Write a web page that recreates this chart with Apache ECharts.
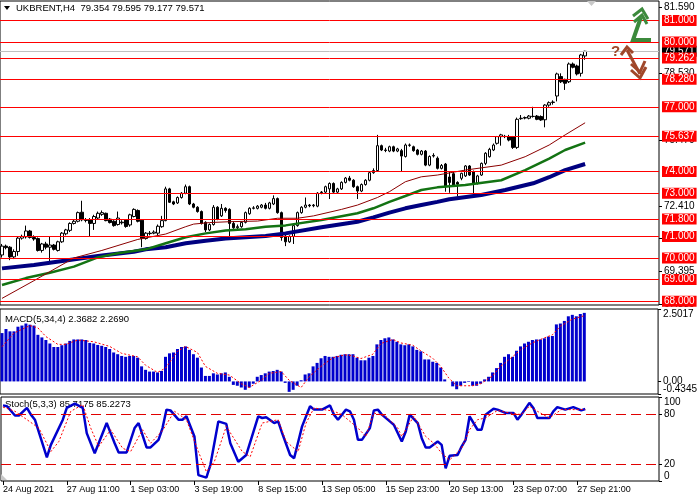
<!DOCTYPE html>
<html>
<head>
<meta charset="utf-8">
<script src="https://cdn.jsdelivr.net/npm/echarts@6/dist/echarts.min.js"></script>
<style>
    html, body { margin: 0; padding: 0; background: #fff; }
    #main { width: 700px; height: 500px; }
</style>
</head>
<body>
<div id="main"></div>
<script>
// H4 свечи: [open, close, low, high]
const candles = [
    [70.14, 70.55, 70.02, 70.65], [70.55, 70.48, 70.40, 70.62], [70.50, 70.05, 69.90, 70.55], [70.05, 70.30, 69.95, 70.40],
    [70.30, 70.92, 70.10, 71.00], [70.92, 71.00, 70.85, 71.08], [70.98, 71.25, 70.90, 71.50], [71.25, 70.95, 70.90, 71.30],
    [70.95, 70.88, 70.80, 71.05], [70.90, 70.35, 70.30, 70.95], // 9
    [70.35, 70.65, 70.25, 70.70], [70.65, 70.50, 70.40, 70.75], [70.50, 70.60, 69.85, 71.00], [70.60, 70.40, 70.35, 70.65],
    [70.35, 70.75, 70.30, 70.80], [70.75, 71.15, 70.70, 71.20], [71.12, 71.30, 71.05, 71.35], [71.28, 71.60, 71.20, 71.65],
    [71.60, 71.70, 71.55, 71.80], [71.70, 72.10, 71.65, 72.15], // 19
    [72.12, 71.77, 71.70, 72.65], [71.77, 71.74, 71.65, 71.85], [71.77, 71.60, 71.00, 71.85], [71.60, 71.92, 71.30, 72.00],
    [71.85, 72.07, 71.80, 72.15], [72.02, 72.10, 71.95, 72.20], [72.07, 71.73, 71.70, 72.10], [71.80, 71.64, 71.60, 71.85],
    [71.70, 71.50, 71.45, 71.75], [71.55, 71.85, 71.50, 72.15], // 29
    [71.66, 71.63, 71.55, 71.75], [71.77, 71.46, 71.40, 71.80], [71.53, 72.00, 71.45, 72.05], [71.92, 72.25, 71.88, 72.30],
    [72.20, 71.70, 71.65, 72.25], [71.75, 70.90, 70.50, 71.80], [70.90, 71.15, 70.85, 71.20], [71.15, 71.13, 71.05, 71.25],
    [71.15, 71.20, 71.10, 71.28], [71.15, 71.47, 71.05, 71.55], // 39
    [71.45, 71.73, 71.40, 71.95], [71.73, 73.20, 71.70, 73.30], [73.20, 72.58, 72.55, 73.25], [72.60, 72.50, 72.45, 72.65],
    [72.55, 72.80, 72.50, 72.85], [72.80, 73.00, 72.75, 73.05], [73.00, 73.30, 72.95, 73.40], [73.30, 72.50, 72.45, 73.35],
    [72.50, 72.35, 72.30, 72.55], [72.35, 72.15, 72.10, 72.40], // 49
    [72.15, 71.60, 71.55, 72.20], [71.65, 71.30, 71.20, 71.70], [71.30, 71.55, 71.25, 71.60], [71.55, 72.35, 71.50, 72.45],
    [72.35, 71.80, 71.75, 72.40], [71.95, 72.30, 71.90, 72.50], [72.30, 72.20, 72.10, 72.35], [72.25, 71.60, 71.00, 72.30],
    [71.60, 71.40, 71.35, 71.70], [71.40, 71.45, 71.30, 71.55], // 59
    [71.45, 71.65, 71.40, 71.70], [71.65, 72.10, 71.60, 72.15], [72.05, 72.30, 72.00, 72.35], [72.30, 72.32, 72.25, 72.40],
    [72.30, 72.40, 72.25, 72.45], [72.35, 72.45, 72.30, 72.50], [72.45, 72.30, 72.25, 72.55], [72.30, 72.55, 72.25, 72.60],
    [72.50, 72.75, 72.45, 72.90], [72.75, 72.10, 72.05, 72.80], // 69
    [72.10, 70.95, 70.80, 72.15], [71.00, 70.75, 70.55, 71.10], [70.75, 71.00, 70.70, 71.05], [71.00, 71.50, 70.65, 71.60],
    [71.50, 72.10, 71.45, 72.15], [72.10, 72.35, 72.05, 72.40], [72.35, 72.45, 72.30, 72.80], [72.45, 72.42, 72.35, 72.50],
    [72.42, 72.45, 72.35, 72.50], [72.40, 73.00, 72.35, 73.05], // 79
    [73.05, 73.03, 72.95, 73.10], [73.05, 73.30, 73.00, 73.35], [73.20, 73.45, 72.73, 73.50], [73.45, 73.05, 73.00, 73.50],
    [73.05, 73.20, 73.00, 73.25], [73.20, 73.50, 73.15, 73.55], [73.50, 73.70, 73.45, 73.75], [73.70, 73.60, 73.55, 73.80],
    [73.60, 73.30, 73.25, 73.65], [73.30, 73.10, 72.73, 73.35], // 89
    [73.10, 73.40, 73.05, 73.45], [73.40, 73.60, 73.35, 73.65], [73.60, 73.95, 73.55, 74.00], [73.95, 74.05, 73.90, 74.15],
    [74.05, 75.20, 74.00, 75.70], [75.20, 75.00, 74.95, 75.25], [75.00, 74.98, 74.90, 75.10], [74.95, 75.15, 74.90, 75.20],
    [75.15, 74.95, 74.90, 75.20], [74.95, 75.05, 74.90, 75.10], // 99
    [74.97, 74.72, 74.00, 75.05], [74.70, 75.23, 74.65, 75.30], [75.23, 75.22, 75.15, 75.30], [75.15, 74.97, 74.92, 75.20],
    [75.00, 74.80, 74.75, 75.05], [74.80, 74.95, 74.75, 75.00], [74.95, 74.30, 74.25, 75.00], [74.30, 74.70, 74.25, 74.75],
    [74.72, 74.75, 74.65, 74.85], [74.62, 74.15, 74.10, 74.70], // 109
    [74.15, 74.28, 74.10, 74.35], [74.35, 73.30, 73.07, 74.40], [73.75, 73.50, 73.02, 74.00], [73.90, 73.35, 73.30, 74.00],
    [73.50, 73.42, 72.84, 73.55], [73.69, 73.92, 73.60, 73.95], [73.80, 74.26, 73.75, 74.30], [74.26, 73.84, 73.80, 74.30],
    [74.00, 73.46, 72.84, 74.05], [73.46, 73.80, 73.40, 73.85], // 119
    [73.84, 74.38, 73.80, 74.42], [74.38, 74.85, 74.30, 74.90], [74.69, 75.03, 74.65, 75.10], [75.00, 75.23, 74.95, 75.30],
    [75.31, 75.62, 75.25, 75.65], [75.62, 75.70, 75.20, 75.75], [75.62, 75.63, 75.55, 75.70], [75.62, 75.46, 75.40, 75.70],
    [75.62, 75.12, 75.05, 75.65], [75.12, 76.42, 75.05, 76.50], // 129
    [76.45, 76.47, 76.40, 76.62], [76.50, 76.48, 76.42, 76.55], [76.47, 76.57, 76.42, 76.62], [76.55, 76.56, 76.50, 77.00],
    [76.57, 76.42, 76.38, 76.62], [76.55, 76.39, 76.35, 76.60], [76.40, 77.08, 76.05, 77.12], [77.08, 77.19, 77.00, 77.25],
    [77.20, 77.22, 77.10, 77.30], [77.50, 78.52, 77.25, 78.58], // 139
    [78.40, 78.16, 78.10, 78.55], [78.27, 78.09, 77.78, 78.30], [78.16, 78.98, 78.10, 79.05], [78.98, 78.83, 78.78, 79.05],
    [78.89, 78.52, 78.45, 78.95], [78.55, 79.40, 78.40, 79.45], [79.354, 79.571, 79.177, 79.595] // 146
];

const maRed = [
    [0, 68.13], [8, 68.95], [18, 70.0], [25, 70.35], [34, 70.86], [41, 71.11], [46, 71.45], [48, 71.57],
    [52, 71.64], [57, 71.68], [64, 71.71], [69, 71.84], [74, 71.84], [78, 71.95], [85, 72.25], [89, 72.45],
    [94, 72.8], [97, 73.07], [101, 73.53], [105, 73.76], [109, 73.84], [116, 74.07], [125, 74.3], [131, 74.69],
    [137, 75.23], [141, 75.7], [146, 76.26]
];
const maGreen = [
    [0, 68.75], [6, 69.07], [12, 69.32], [18, 69.6], [24, 70.03], [29, 70.22], [36, 70.4], [41, 70.68],
    [46, 70.96], [51, 71.14], [56, 71.27], [61, 71.33], [66, 71.45], [71, 71.51], [80, 71.76], [89, 72.07],
    [93, 72.3], [97, 72.6], [101, 72.87], [105, 73.15], [109, 73.27], [116, 73.38], [125, 73.6], [131, 74.07],
    [137, 74.6], [141, 75.0], [146, 75.34]
];
const maNavy = [
    [0, 69.52], [8, 69.68], [16, 69.88], [24, 70.09], [33, 70.29], [36, 70.4], [41, 70.5], [46, 70.68],
    [51, 70.8], [56, 70.9], [61, 70.96], [66, 71.02], [71, 71.14], [80, 71.42], [89, 71.68], [93, 71.88],
    [97, 72.1], [101, 72.3], [105, 72.45], [109, 72.6], [112, 72.72], [120, 72.92], [126, 73.15], [133, 73.46],
    [137, 73.74], [141, 74.07], [146, 74.35]
];

// MACD(5,34,4)
const macdHist = [
    1.67, 1.81, 1.73, 1.73, 1.89, 1.93, 2.0, 1.96, 1.93, 1.61,
    1.52, 1.43, 1.31, 1.19, 1.19, 1.25, 1.31, 1.4, 1.45, 1.45,
    1.45, 1.43, 1.33, 1.31, 1.26, 1.23, 1.19, 1.12, 1.0, 0.94,
    0.88, 0.85, 0.88, 0.88, 0.82, 0.52, 0.4, 0.34, 0.34, 0.31,
    0.36, 0.85, 0.97, 1.0, 1.12, 1.19, 1.21, 1.09, 0.94, 0.82,
    0.48, 0.19, 0.19, 0.28, 0.24, 0.28, 0.31, 0.16, -0.12, -0.15,
    -0.21, -0.29, -0.21, -0.08, 0.16, 0.22, 0.28, 0.34, 0.36, 0.4,
    0.34, -0.05, -0.36, -0.29, -0.15, 0.04, 0.24, 0.28, 0.52, 0.64,
    0.8, 0.88, 0.85, 0.85, 0.88, 0.92, 0.94, 0.94, 0.94, 0.82,
    0.73, 0.73, 0.82, 0.88, 1.28, 1.43, 1.49, 1.52, 1.45, 1.37,
    1.28, 1.25, 1.28, 1.21, 1.09, 1.04, 0.76, 0.76, 0.68, 0.64,
    0.48, 0.07, 0.0, -0.17, -0.27, -0.15, -0.05, -0.02, -0.15, -0.15,
    -0.08, 0.07, 0.16, 0.31, 0.46, 0.64, 0.85, 0.94, 0.85, 1.06,
    1.21, 1.31, 1.37, 1.43, 1.45, 1.45, 1.49, 1.55, 1.57, 1.97,
    2.0, 2.09, 2.25, 2.3, 2.25, 2.33, 2.3682
];
const macdSignal = [
    [0, 1.2], [3, 1.67], [7, 1.93], [9, 1.85], [11, 1.55], [14, 1.28], [16, 1.28], [19, 1.43], [23, 1.37],
    [27, 1.21], [30, 0.97], [34, 0.85], [36, 0.56], [39, 0.31], [41, 0.46], [44, 1.04], [46, 1.21], [49, 1.0],
    [51, 0.52], [54, 0.28], [57, 0.22], [60, -0.08], [62, -0.21], [65, 0.04], [67, 0.28], [70, 0.34], [72, 0.04],
    [75, -0.21], [77, 0.16], [80, 0.52], [83, 0.82], [86, 0.92], [88, 0.88], [90, 0.79], [93, 0.94], [95, 1.31],
    [98, 1.45], [100, 1.33], [103, 1.25], [105, 1.06], [108, 0.8], [110, 0.52], [112, 0.12], [114, -0.15],
    [118, -0.15], [120, -0.08], [123, 0.19], [125, 0.52], [128, 0.85], [130, 1.09], [133, 1.33], [135, 1.45],
    [138, 1.61], [140, 1.91], [143, 2.15], [146, 2.269]
];

// Stoch(5,3,3)
const stochMain = [
    [0, 90], [1, 89], [3, 78], [4, 78], [6, 87], [7, 79], [8, 73], [11, 28], [12, 43], [15, 73], [16, 87],
    [18, 92], [20, 87], [21, 57], [23, 33], [26, 69], [27, 57], [28, 45], [29, 34], [31, 34], [33, 63],
    [34, 69], [36, 40], [37, 40], [39, 49], [40, 63], [41, 85], [42, 84], [44, 73], [45, 73], [46, 77],
    [48, 53], [49, 7], [51, 4], [52, 19], [54, 71], [56, 68], [57, 45], [59, 23], [61, 31], [64, 77],
    [65, 75], [66, 76], [68, 69], [69, 71], [70, 57], [72, 31], [73, 27], [75, 65], [77, 89], [78, 85],
    [80, 85], [82, 90], [83, 79], [84, 73], [86, 85], [87, 83], [88, 73], [89, 49], [90, 49], [92, 63],
    [93, 84], [94, 85], [95, 79], [97, 71], [98, 67], [100, 47], [101, 59], [102, 79], [104, 69], [105, 51],
    [106, 40], [107, 40], [109, 47], [110, 43], [111, 15], [112, 30], [114, 31], [115, 41], [116, 49],
    [117, 77], [119, 61], [120, 61], [121, 79], [123, 86], [124, 85], [126, 81], [128, 81], [129, 73],
    [130, 79], [132, 93], [133, 87], [134, 75], [137, 75], [138, 83], [139, 88], [141, 85], [143, 88],
    [145, 84], [146, 85.72]
];
const stochSignal = [
    [0, 88], [3, 83], [9, 63], [12, 35], [14, 47], [17, 83], [20, 91], [22, 63], [24, 41], [27, 61], [30, 39],
    [32, 35], [35, 61], [37, 45], [40, 60], [43, 83], [46, 73], [49, 35], [51, 11], [53, 23], [56, 65],
    [60, 35], [62, 29], [65, 69], [69, 73], [71, 47], [74, 35], [76, 69], [78, 87], [83, 83], [85, 79],
    [89, 63], [91, 53], [93, 81], [96, 77], [99, 63], [100, 53], [103, 77], [106, 53], [108, 45], [110, 33],
    [112, 25], [115, 39], [117, 61], [119, 73], [121, 75], [124, 84], [127, 81], [130, 79], [132, 89],
    [134, 83], [137, 75], [140, 85], [144, 85], [146, 85.23]
];

// горизонтальные уровни
const levels = [81, 80, 79.262, 78.28, 77, 75.637, 74, 73, 71.8, 71, 70, 69, 68];
const lastPrice = 79.571;
const priceTicks = [81.59, 78.53, 75.47, 72.41, 70.895, 69.395, 67.88];
const macdTicks = [-0.4345, 2.5017];
const macdZero = [0];
const stochTicks = [0, 20, 80, 100];
const stochLevels = [80, 20];
const dateLabels = ['24 Aug 2021', '27 Aug 11:00', '1 Sep 03:00', '3 Sep 19:00', '8 Sep 15:00',
    '13 Sep 05:00', '15 Sep 23:00', '20 Sep 13:00', '23 Sep 07:00', '27 Sep 21:00'];
const labelStep = 16;
const totalSlots = 165; // пустое место справа, как в терминале

const FONT = 'Liberation Sans';

const cats = [];
for (let i = 0; i < totalSlots; i++) {
    cats.push(i % labelStep === 0 && dateLabels[i / labelStep] ? dateLabels[i / labelStep] : '');
}
const showLabel = (idx) => cats[idx] !== '';

const levelLines = [{
    yAxis: lastPrice,
    lineStyle: { color: '#c0c0c0', width: 1, type: 'solid' },
    label: { backgroundColor: '#000', color: '#fff' }
}];
levels.forEach(v => levelLines.push({ yAxis: v }));

const chart = echarts.init(document.getElementById('main'));
const option = {
    animation: false,
    backgroundColor: '#fff',
    grid: [
        { left: 0, top: 1, width: 659, height: 304, show: true, borderColor: '#000', borderWidth: 1, backgroundColor: '#fff' },
        { left: 0, top: 309, width: 659, height: 85, show: true, borderColor: '#000', borderWidth: 1, backgroundColor: '#fff' },
        { left: 0, top: 397, width: 659, height: 84, show: true, borderColor: '#000', borderWidth: 1, backgroundColor: '#fff' }
    ],
    xAxis: [
        { type: 'category', gridIndex: 0, data: cats, show: false },
        { type: 'category', gridIndex: 1, data: cats, show: false },
        {
            type: 'category', gridIndex: 2, data: cats,
            axisLine: { show: false },
            axisTick: { show: true, interval: showLabel, alignWithLabel: true, length: 4, lineStyle: { color: '#000' } },
            axisLabel: { interval: showLabel, align: 'left', margin: 4, color: '#000', fontSize: 9, fontFamily: FONT },
            splitLine: { show: false }
        }
    ],
    yAxis: [
        {
            type: 'value', gridIndex: 0, position: 'right', min: 67.824, max: 81.898,
            splitLine: { show: false }, axisLine: { show: false },
            axisTick: { show: true, customValues: priceTicks, length: 3, lineStyle: { color: '#000' } },
            axisLabel: { customValues: priceTicks, formatter: v => v.toFixed(3), margin: 5, color: '#000', fontSize: 10, fontFamily: FONT }
        },
        {
            type: 'value', gridIndex: 1, position: 'right', min: -0.4345, max: 2.5017,
            splitLine: { show: false }, axisLine: { show: false },
            axisTick: { show: true, customValues: macdTicks, length: 3, lineStyle: { color: '#000' } },
            axisLabel: {
                customValues: macdTicks, formatter: v => v.toFixed(4),
                showMinLabel: true, showMaxLabel: true,
                verticalAlignMinLabel: 'bottom', verticalAlignMaxLabel: 'top',
                margin: 5, color: '#000', fontSize: 10, fontFamily: FONT
            }
        },
        {
            type: 'value', gridIndex: 2, position: 'right', min: 0, max: 100,
            splitLine: { show: false }, axisLine: { show: false },
            axisTick: { show: true, customValues: stochTicks, length: 3, lineStyle: { color: '#000' } },
            axisLabel: {
                customValues: stochTicks, showMinLabel: true, showMaxLabel: true,
                verticalAlignMinLabel: 'bottom', verticalAlignMaxLabel: 'top',
                margin: 5, color: '#000', fontSize: 10, fontFamily: FONT
            }
        },
        {
            // отдельная ось только для подписи нуля MACD
            type: 'value', gridIndex: 1, position: 'right', min: -0.4345, max: 2.5017,
            splitLine: { show: false }, axisLine: { show: false },
            axisTick: { show: true, customValues: macdZero, length: 3, lineStyle: { color: '#000' } },
            axisLabel: {
                customValues: macdZero, formatter: () => '0.00', verticalAlign: 'middle',
                margin: 5, color: '#000', fontSize: 10, fontFamily: FONT
            }
        }
    ],
    series: [
        {
            type: 'candlestick', xAxisIndex: 0, yAxisIndex: 0, data: candles, barWidth: 3,
            itemStyle: { color: '#fff', color0: '#000', borderColor: '#000', borderColor0: '#000', borderWidth: 1 },
            markLine: {
                silent: true, symbol: ['none', 'none'], precision: 3,
                lineStyle: { color: '#ff0000', width: 1, type: 'solid' },
                label: {
                    show: true, position: 'end', distance: 3, formatter: p => Number(p.value).toFixed(3),
                    color: '#fff', backgroundColor: '#ff0000', padding: [1, 2, 0, 2],
                    fontSize: 10, fontFamily: FONT, lineHeight: 10
                },
                data: levelLines
            }
        },
        { type: 'line', xAxisIndex: 0, yAxisIndex: 0, data: maNavy, showSymbol: false, lineStyle: { color: '#000080', width: 4 } },
        { type: 'line', xAxisIndex: 0, yAxisIndex: 0, data: maGreen, showSymbol: false, lineStyle: { color: '#137313', width: 2.5 } },
        { type: 'line', xAxisIndex: 0, yAxisIndex: 0, data: maRed, showSymbol: false, lineStyle: { color: '#8b0000', width: 1 } },
        { type: 'bar', xAxisIndex: 1, yAxisIndex: 1, data: macdHist, barWidth: 3, itemStyle: { color: '#0000cd' } },
        { type: 'line', xAxisIndex: 1, yAxisIndex: 1, data: macdSignal, showSymbol: false, lineStyle: { color: '#ff0000', width: 1, type: [2, 2] } },
        {
            type: 'line', xAxisIndex: 2, yAxisIndex: 2, data: stochMain, showSymbol: false,
            lineStyle: { color: '#0000cd', width: 2.5 },
            markLine: {
                silent: true, symbol: ['none', 'none'], label: { show: false },
                lineStyle: { color: '#e00000', width: 1, type: [10, 5] },
                data: stochLevels.map(v => ({ yAxis: v }))
            }
        },
        { type: 'line', xAxisIndex: 2, yAxisIndex: 2, data: stochSignal, showSymbol: false, lineStyle: { color: '#ff0000', width: 1, type: [2, 2] } }
    ],
    graphic: [
        { type: 'polygon', shape: { points: [[4, 6], [10, 6], [7, 10]] }, style: { fill: '#000' } },
        { type: 'text', left: 16, top: 3, style: { text: 'UKBRENT,H4  79.354 79.595 79.177 79.571', fill: '#000', fontSize: 9.5, fontFamily: FONT } },
        { type: 'text', left: 5, top: 314, style: { text: 'MACD(5,34,4) 2.3682 2.2690', fill: '#000', fontSize: 9.5, fontFamily: FONT } },
        { type: 'text', left: 5, top: 399, style: { text: 'Stoch(5,3,3) 85.7175 85.2273', fill: '#000', fontSize: 9.5, fontFamily: FONT } },
        // маркер сдвига графика
        { type: 'polygon', shape: { points: [[587, 1], [596, 1], [591.5, 6]] }, style: { fill: '#c8c8c8' } },
        { type: 'polygon', shape: { points: [[1, 474], [1, 480], [7, 480]] }, style: { fill: '#c8c8c8' } },
        // зелёная стрелка вверх
        { type: 'polyline', z: 10, shape: { points: [[651, 40], [633, 40], [641, 17]] }, style: { stroke: '#3c8a3c', lineWidth: 4, fill: null } },
        { type: 'polyline', z: 10, shape: { points: [[633, 16], [642, 9], [648, 19]] }, style: { stroke: '#3c8a3c', lineWidth: 3, fill: null } },
        { type: 'polyline', z: 10, shape: { points: [[634, 22], [642, 15], [647, 24]] }, style: { stroke: '#3c8a3c', lineWidth: 3, fill: null } },
        // коричневая стрелка вниз с вопросом
        { type: 'text', z: 10, left: 611, top: 44, style: { text: '?', fill: '#a0472a', fontSize: 15, fontWeight: 'bold', fontFamily: FONT } },
        { type: 'polyline', z: 10, shape: { points: [[621, 55], [627, 47], [633, 53]] }, style: { stroke: '#a0472a', lineWidth: 3, fill: null } },
        { type: 'polyline', z: 10, shape: { points: [[627, 50], [640, 74]] }, style: { stroke: '#a0472a', lineWidth: 3, fill: null } },
        { type: 'polyline', z: 10, shape: { points: [[631, 64], [640, 72], [645, 61]] }, style: { stroke: '#a0472a', lineWidth: 3, fill: null } },
        { type: 'polyline', z: 10, shape: { points: [[631, 70], [640, 78], [646, 67]] }, style: { stroke: '#a0472a', lineWidth: 3, fill: null } }
    ]
};
chart.setOption(option);
</script>
</body>
</html>
